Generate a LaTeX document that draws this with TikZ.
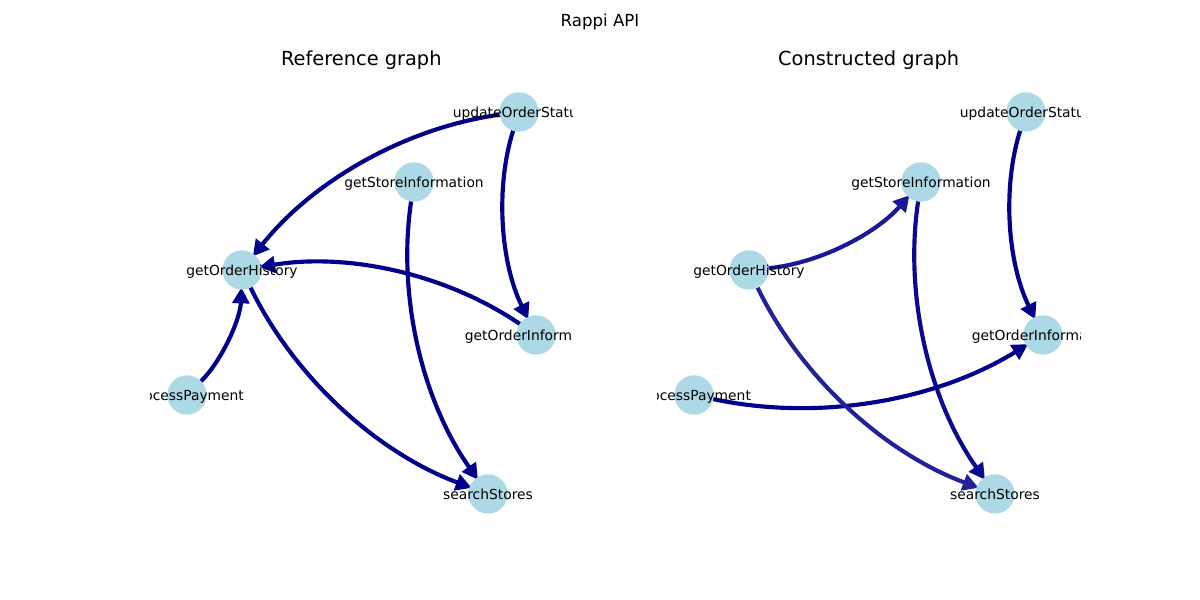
\documentclass[tikz,border=0pt]{standalone}
\usepackage{fontspec}
\setmainfont{DejaVu Sans}
\usetikzlibrary{arrows.meta}
\definecolor{edgeblue}{RGB}{0,0,139}
\definecolor{nodeblue}{RGB}{173,216,230}
\pgfdeclarelayer{edgelayer}
\pgfsetlayers{edgelayer,main}
\tikzset{
  vert/.style={circle, fill=nodeblue, minimum size=0.393in, inner sep=0pt},
  lbl/.style={font=\fontsize{10}{12}\selectfont, inner sep=0pt, text height=0.76em, text depth=0.208em, yshift=-1.1pt},
  conn/.style={draw=edgeblue, line width=3pt, -{Triangle[length=11.5pt,width=12pt]},
    shorten <=14.14pt, shorten >=12.6pt, bend right=21.8, looseness=0.917},
  ttl/.style={font=\fontsize{14}{17}\selectfont, anchor=base, inner sep=0pt},
}
\begin{document}
\begin{tikzpicture}[x=0.01in,y=0.01in]
\useasboundingbox (0,0) rectangle (1200,600);
\node[font=\fontsize{12}{14}\selectfont, anchor=base, inner sep=0pt] (sup) at (600,573) {Rappi API};
\node[ttl] (tl) at (361.35,534.5) {Reference graph};
\node[ttl] (tr) at (868.65,534.5) {Constructed graph};

% Left panel
\begin{scope}
\clip (150,66) rectangle (572.7,528);
\node[vert] (Luos) at (519,488) {};
\node[vert] (Lgsi) at (414,418) {};
\node[vert] (Lgoh) at (242,330) {};
\node[vert] (Lgoi) at (536,265) {};
\node[vert] (Lpp)  at (187,205) {};
\node[vert] (Lss)  at (488,106) {};
\begin{pgfonlayer}{edgelayer}
\draw[conn] (Luos.center) to (Lgoh.center);
\draw[conn] (Luos.center) to (Lgoi.center);
\draw[conn] (Lgsi.center) to (Lss.center);
\draw[conn] (Lgoi.center) to (Lgoh.center);
\draw[conn] (Lpp.center) to (Lgoh.center);
\draw[conn] (Lgoh.center) to (Lss.center);
\end{pgfonlayer}
\node[lbl] at (Luos) {updateOrderStatus};
\node[lbl] at (Lgsi) {getStoreInformation};
\node[lbl] at (Lgoh) {getOrderHistory};
\node[lbl] at (Lgoi) {getOrderInformation};
\node[lbl] at (Lpp) {processPayment};
\node[lbl] at (Lss) {searchStores};
\end{scope}

% Right panel
\begin{scope}
\clip (657.3,66) rectangle (1080,528);
\node[vert] (Ruos) at (1026,488) {};
\node[vert] (Rgsi) at (921,418) {};
\node[vert] (Rgoh) at (749,330) {};
\node[vert] (Rgoi) at (1043,265) {};
\node[vert] (Rpp)  at (694,205) {};
\node[vert] (Rss)  at (995,106) {};
\begin{pgfonlayer}{edgelayer}
\draw[conn, draw=edgeblue!90] (Rgoh.center) to (Rgsi.center);
\draw[conn] (Ruos.center) to (Rgoi.center);
\draw[conn, draw=edgeblue!96] (Rgsi.center) to (Rss.center);
\draw[conn] (Rpp.center) to (Rgoi.center);
\draw[conn, draw=edgeblue!87] (Rgoh.center) to (Rss.center);
\end{pgfonlayer}
\node[lbl] at (Ruos) {updateOrderStatus};
\node[lbl] at (Rgsi) {getStoreInformation};
\node[lbl] at (Rgoh) {getOrderHistory};
\node[lbl] at (Rgoi) {getOrderInformation};
\node[lbl] at (Rpp) {processPayment};
\node[lbl] at (Rss) {searchStores};
\end{scope}
\end{tikzpicture}
\end{document}
